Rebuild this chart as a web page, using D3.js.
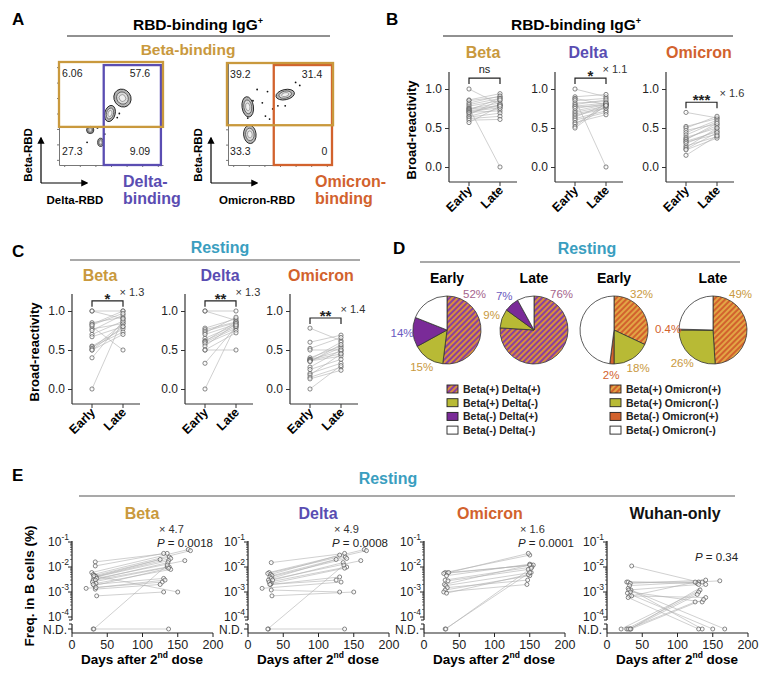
<!DOCTYPE html>
<html>
<head>
<meta charset="utf-8">
<script src="https://cdn.jsdelivr.net/npm/d3@7"></script>
<style>
body { margin: 0; background: #fff; }
svg text { font-family: "Liberation Sans", Arial, sans-serif; }
</style>
</head>
<body>
<script>
/* global d3 */

// ---------- data: panel A (flow plots, % of axis range)
const flowTicks = [5, 20, 35, 50, 65, 80, 95]
const flowLeftBlobs = [
  { x: 61, y: 65, rx: 8, ry: 9, rot: -35 },
  { x: 49, y: 50, rx: 5, ry: 8, rot: 15 },
  { x: 30, y: 34, rx: 3.5, ry: 3.5, rot: 0 },
  { x: 40, y: 22, rx: 2.8, ry: 4, rot: 0 }
]
const flowLeftDots = [[37, 36], [56, 46], [58, 50], [27, 22], [44, 30]]
const flowRightBlobs = [
  { x: 19, y: 57, rx: 5.5, ry: 10, rot: -8 },
  { x: 21, y: 30, rx: 6, ry: 9, rot: -5 },
  { x: 55, y: 69, rx: 9, ry: 5, rot: -12 }
]
const flowRightDots = [[28, 74], [38, 72], [33, 61], [36, 48], [43, 55], [48, 58], [69, 78], [65, 81], [40, 45], [19, 46], [24, 63], [55, 58]]
const flowLeftQuad = ['6.06', '57.6', '27.3', '9.09']
const flowRightQuad = ['39.2', '31.4', '33.3', '0']

// ---------- data: panel B (RBD-binding IgG+, broad-reactivity)
const bBetaEarly = [1.0, 0.86, 0.85, 0.82, 0.8, 0.78, 0.76, 0.75, 0.74, 0.73, 0.72, 0.71, 0.7, 0.69, 0.67, 0.65, 0.64, 0.62, 0.6, 0.57]
const bBetaLate = [0.8, 0.94, 0.9, 0.91, 0.88, 0.85, 0.0, 0.82, 0.79, 0.88, 0.78, 0.76, 0.72, 0.8, 0.86, 0.75, 0.69, 0.65, 0.61, 0.78]
const bDeltaEarly = [1.0, 0.9, 0.88, 0.87, 0.85, 0.82, 0.8, 0.78, 0.77, 0.75, 0.72, 0.7, 0.68, 0.66, 0.64, 0.62, 0.6, 0.57, 0.55, 0.52, 0.5]
const bDeltaLate = [0.9, 0.93, 0.8, 0.0, 0.88, 0.84, 0.86, 0.82, 0.79, 0.81, 0.8, 0.78, 0.76, 0.75, 0.8, 0.72, 0.7, 0.67, 0.78, 0.82, 0.79]
const bOmiEarly = [0.7, 0.52, 0.5, 0.47, 0.44, 0.41, 0.38, 0.36, 0.35, 0.33, 0.32, 0.3, 0.27, 0.25, 0.23, 0.22, 0.15]
const bOmiLate = [0.63, 0.62, 0.65, 0.55, 0.6, 0.58, 0.5, 0.53, 0.56, 0.45, 0.42, 0.47, 0.39, 0.5, 0.44, 0.37, 0.4]

// ---------- data: panel C (resting, broad-reactivity)
const cBetaEarly = [1.0, 1.0, 0.85, 0.83, 0.8, 0.77, 0.75, 0.7, 0.67, 0.55, 0.54, 0.52, 0.5, 0.5, 0.4, 0.0, 0.82]
const cBetaLate = [1.0, 0.9, 0.92, 1.0, 0.5, 0.84, 0.95, 0.87, 0.8, 0.77, 0.73, 0.84, 0.7, 0.8, 0.87, 0.9, 0.97]
const cDeltaEarly = [1.0, 1.0, 0.78, 0.76, 0.74, 0.72, 0.7, 0.65, 0.62, 0.61, 0.6, 0.58, 0.55, 0.5, 0.5, 0.33, 0.0]
const cDeltaLate = [1.0, 0.88, 0.9, 0.86, 0.85, 0.92, 0.83, 0.82, 0.8, 0.86, 0.78, 0.75, 0.84, 0.5, 0.72, 0.8, 0.82]
const cOmiEarly = [0.78, 0.6, 0.52, 0.5, 0.4, 0.38, 0.38, 0.37, 0.36, 0.36, 0.35, 0.28, 0.25, 0.2, 0.18, 0.15, 0.13, 0.0]
const cOmiLate = [0.62, 0.69, 0.66, 0.5, 0.55, 0.48, 0.6, 0.45, 0.53, 0.42, 0.57, 0.5, 0.38, 0.33, 0.45, 0.28, 0.24, 0.3]

// ---------- data: panel D (pie shares, %)
const pieDeltaCats = ['Beta(+) Delta(+)', 'Beta(+) Delta(-)', 'Beta(-) Delta(+)', 'Beta(-) Delta(-)']
const pieOmiCats = ['Beta(+) Omicron(+)', 'Beta(+) Omicron(-)', 'Beta(-) Omicron(+)', 'Beta(-) Omicron(-)']
const pieDeltaEarly = [52, 15, 14, 19]
const pieDeltaLate = [76, 9, 7, 8]
const pieOmiEarly = [32, 18, 2, 48]
const pieOmiLate = [49, 26, 0.4, 24.6]
const pieDeltaLabels = [['52%', '15%', '14%', ''], ['76%', '9%', '7%', '']]
const pieOmiLabels = [['32%', '18%', '2%', ''], ['49%', '26%', '0.4%', '']]

// ---------- data: panel E (frequency in B cells, %, null = N.D.)
const eBetaEarlyDay = [33, 33, 28, 30, 32, 33, 34, 31, 35, 30, 33, 29, 34, 32, 30, 20, 33, 34, 35, 31, 30, 31]
const eBetaEarlyVal = [0.016, 0.011, 0.006, 0.005, 0.0045, 0.004, 0.0042, 0.0038, 0.0035, 0.003, 0.003, 0.0025, 0.0022, 0.0018, 0.002, 0.0014, 0.0013, 0.0015, 0.0007, 0.0045, null, null]
const eBetaLateDay = [135, 130, 165, 168, 138, 140, 125, 137, 160, 136, 135, 138, 140, 137, 130, 128, 125, 132, 130, 150, 137, 135]
const eBetaLateVal = [0.035, 0.035, 0.05, 0.045, 0.025, 0.022, 0.02, 0.018, 0.018, 0.015, 0.01, 0.01, 0.008, 0.009, 0.0035, 0.0025, 0.002, 0.003, 0.001, 0.001, null, 0.012]

const eDeltaEarlyDay = [33, 30, 28, 32, 34, 31, 33, 29, 35, 30, 33, 32, 31, 20, 33, 34, 29, 28]
const eDeltaEarlyVal = [0.015, 0.006, 0.0055, 0.005, 0.0045, 0.004, 0.0035, 0.003, 0.003, 0.0025, 0.0022, 0.002, 0.002, 0.0014, 0.0012, 0.0007, null, null]
const eDeltaLateDay = [137, 165, 168, 130, 138, 140, 125, 160, 135, 140, 137, 130, 125, 132, 130, 150, 137, 136]
const eDeltaLateVal = [0.035, 0.05, 0.045, 0.03, 0.025, 0.022, 0.02, 0.018, 0.015, 0.01, 0.009, 0.004, 0.003, 0.0025, 0.001, 0.001, null, 0.012]

const eOmiEarlyDay = [30, 33, 28, 35, 32, 30, 34, 29, 31, 33, 30, 28, 32, 30, 31]
const eOmiEarlyVal = [0.006, 0.0058, 0.0055, 0.006, 0.0045, 0.003, 0.0028, 0.002, 0.0018, 0.0015, 0.0012, 0.001, 0.0009, null, null]
const eOmiLateDay = [150, 148, 152, 155, 150, 153, 148, 150, 152, 147, 150, 146, 148, 150, 152]
const eOmiLateVal = [0.03, 0.035, 0.012, 0.012, 0.013, 0.01, 0.008, 0.012, 0.006, 0.003, 0.0045, 0.002, 0.005, 0.006, 0.009]

const eWuhanEarlyDay = [35, 28, 30, 33, 32, 30, 34, 31, 33, 29, 32, 35, 30, 20, 28, 32, 34, 30, 33]
const eWuhanEarlyVal = [0.011, 0.0025, 0.0025, 0.0022, 0.0018, 0.0014, 0.0012, 0.0012, 0.001, 0.0009, 0.0007, 0.0007, 0.0006, null, null, null, null, null, null]
const eWuhanLateDay = [130, 128, 135, 140, 160, 135, 167, 130, 135, 150, 140, 125, 130, 132, 130, 128, 137, 125, 140]
const eWuhanLateVal = [0.0025, 0.0022, 0.0025, 0.003, 0.0028, null, null, 0.002, 0.0004, null, 0.0006, 0.0025, null, 0.0012, 0.001, 0.0008, 0.0005, 0.0004, 0.002]

const dayTicks = [0, 50, 100, 150, 200]
const decades = [-1, -2, -3, -4]

// ---------- colours
const GOLD = '#c9993d'
const PURPLE = '#5a4db2'
const ORANGE = '#d2622d'
const TEAL = '#3a9ec0'
const OLIVE = '#b8ba35'
const VIOLET = '#7a2b98'
const MAUVE = '#a5648c'

const width = 760
const height = 675

const svg = d3.select('body').append('svg')
  .attr('width', width)
  .attr('height', height)

const defs = svg.append('defs')

function hatch (id, c1, c2) {
  const p = defs.append('pattern')
    .attr('id', id)
    .attr('patternUnits', 'userSpaceOnUse')
    .attr('width', 4).attr('height', 4)
    .attr('patternTransform', 'rotate(45)')
  p.append('rect').attr('width', 4).attr('height', 4).attr('fill', c1)
  p.append('rect').attr('width', 2).attr('height', 4).attr('fill', c2)
}
hatch('hD', '#8a3fa0', '#d8903c')
hatch('hO', '#d2622d', '#e2a545')

defs.append('marker')
  .attr('id', 'arrow')
  .attr('viewBox', '0 0 10 10')
  .attr('refX', 8).attr('refY', 5)
  .attr('markerWidth', 6).attr('markerHeight', 6)
  .attr('orient', 'auto')
  .append('path').attr('d', 'M0,0L10,5L0,10z').attr('fill', '#000')

function text (x, y, str, o) {
  o = o || {}
  return svg.append('text')
    .attr('x', x).attr('y', y)
    .attr('text-anchor', o.anchor || 'middle')
    .attr('font-size', o.size || 12)
    .attr('font-weight', o.bold ? 'bold' : 'normal')
    .attr('fill', o.color || '#000')
    .text(str)
}

function header (x, y, title, color, x0, x1, uy) {
  const t = text(x, y, title, { size: 16, bold: true, color: color })
  svg.append('line').attr('x1', x0).attr('x2', x1).attr('y1', uy).attr('y2', uy)
    .attr('stroke', '#555').attr('stroke-width', 1.1)
  return t
}

function igTitle (x, y, x0, x1, uy) {
  const t = text(x, y, 'RBD-binding IgG', { size: 15.5, bold: true })
  t.append('tspan').attr('font-size', 9).attr('dy', -6).text('+')
  svg.append('line').attr('x1', x0).attr('x2', x1).attr('y1', uy).attr('y2', uy)
    .attr('stroke', '#222').attr('stroke-width', 1)
}

// panel letters
text(12, 25, 'A', { size: 17, bold: true, anchor: 'start' })
text(386, 25, 'B', { size: 17, bold: true, anchor: 'start' })
text(12, 257, 'C', { size: 17, bold: true, anchor: 'start' })
text(393, 254, 'D', { size: 17, bold: true, anchor: 'start' })
text(12, 481, 'E', { size: 17, bold: true, anchor: 'start' })

// ================= Panel A
igTitle(198, 30, 67, 330, 36)
text(188, 55, 'Beta-binding', { size: 15.5, bold: true, color: GOLD })

function flowPlot (o) {
  const fx = d3.scaleLinear().domain([0, 100]).range([o.x0, o.x1])
  const fy = d3.scaleLinear().domain([0, 100]).range([o.y1, o.y0])
  const g = svg.append('g')
  g.append('g').attr('transform', `translate(${o.x0},0)`)
    .call(d3.axisLeft(fy).tickValues(flowTicks).tickSize(2).tickFormat('').tickSizeOuter(0))
    .call(s => s.selectAll('line,path').attr('stroke', '#777'))
  g.append('g').attr('transform', `translate(0,${o.y1})`)
    .call(d3.axisBottom(fx).tickValues(flowTicks).tickSize(2).tickFormat('').tickSizeOuter(0))
    .call(s => s.selectAll('line,path').attr('stroke', '#777'))

  const ring = [[1, '#b5b5b5', '#222', 0.9], [0.68, '#dcdcdc', '#444', 0.7], [0.38, '#f0f0f0', '#777', 0.6]]
  o.blobs.forEach(b => {
    ring.forEach(r => {
      g.append('ellipse')
        .attr('transform', `translate(${fx(b.x)},${fy(b.y)}) rotate(${b.rot})`)
        .attr('rx', (fx(b.rx) - fx(0)) * r[0])
        .attr('ry', (fy(0) - fy(b.ry)) * r[0])
        .attr('fill', r[1]).attr('stroke', r[2]).attr('stroke-width', r[3])
    })
  })
  g.selectAll('circle.dot').data(o.dots).enter().append('circle')
    .attr('cx', d => fx(d[0])).attr('cy', d => fy(d[1])).attr('r', 0.9).attr('fill', '#111')

  // gates
  g.append('rect')
    .attr('x', fx(o.colGate[0])).attr('y', fy(o.colGate[3]))
    .attr('width', fx(o.colGate[1]) - fx(o.colGate[0]))
    .attr('height', fy(o.colGate[2]) - fy(o.colGate[3]))
    .attr('fill', 'none').attr('stroke', o.colColor).attr('stroke-width', 2.3)
  g.append('rect')
    .attr('x', fx(o.rowGate[0])).attr('y', fy(o.rowGate[3]))
    .attr('width', fx(o.rowGate[1]) - fx(o.rowGate[0]))
    .attr('height', fy(o.rowGate[2]) - fy(o.rowGate[3]))
    .attr('fill', 'none').attr('stroke', GOLD).attr('stroke-width', 2.3)

  const qx = [o.qx[0], o.qx[1], o.qx[0], o.qx[2]]
  const qy = [85, 85, 10, 10]
  o.quad.forEach((q, i) => {
    g.append('text').attr('x', fx(qx[i])).attr('y', fy(qy[i]))
      .attr('font-size', 10.5).attr('fill', '#222').text(q)
  })

  // axis arrows
  const ax = o.ax
  g.append('line').attr('x1', ax).attr('y1', o.y1 + 18).attr('x2', ax).attr('y2', o.y1 - 27)
    .attr('stroke', '#000').attr('stroke-width', 1.2).attr('marker-end', 'url(#arrow)')
  g.append('line').attr('x1', ax).attr('y1', o.y1 + 18).attr('x2', ax + o.arrowLen).attr('y2', o.y1 + 18)
    .attr('stroke', '#000').attr('stroke-width', 1.2).attr('marker-end', 'url(#arrow)')
  g.append('text').attr('transform', `translate(${ax - 9},${o.y1 - 10}) rotate(-90)`)
    .attr('text-anchor', 'middle').attr('font-size', 11.5).attr('font-weight', 'bold').text('Beta-RBD')
  g.append('text').attr('x', o.xlabX).attr('y', o.y1 + 39)
    .attr('text-anchor', 'middle').attr('font-size', 11.5).attr('font-weight', 'bold').text(o.xlab)
  g.append('text').attr('x', o.gateLabX).attr('y', o.y1 + 22)
    .attr('font-size', 16).attr('font-weight', 'bold').attr('fill', o.colColor).text(o.gateLab[0])
  g.append('text').attr('x', o.gateLabX).attr('y', o.y1 + 39)
    .attr('font-size', 16).attr('font-weight', 'bold').attr('fill', o.colColor).text(o.gateLab[1])
}

flowPlot({
  x0: 59, x1: 163, y0: 62, y1: 165,
  blobs: flowLeftBlobs, dots: flowLeftDots, quad: flowLeftQuad,
  qx: [3, 68, 68], colGate: [43, 98, 0, 97], rowGate: [0, 100, 37, 100], colColor: PURPLE,
  ax: 41, arrowLen: 46, xlab: 'Delta-RBD', xlabX: 75,
  gateLab: ['Delta-', 'binding'], gateLabX: 123
})
flowPlot({
  x0: 228, x1: 332, y0: 63, y1: 165,
  blobs: flowRightBlobs, dots: flowRightDots, quad: flowRightQuad,
  qx: [2, 71, 90], colGate: [44, 100, 0, 98], rowGate: [-1, 101, 39, 100], colColor: ORANGE,
  ax: 211, arrowLen: 46, xlab: 'Omicron-RBD', xlabX: 257,
  gateLab: ['Omicron-', 'binding'], gateLabX: 315
})

// ================= Panels B and C: paired early/late plots
function paired (o) {
  const g = svg.append('g')
  const x = d3.scalePoint().domain(['Early', 'Late']).range([o.x0 + 20, o.x0 + 51])
  const y = d3.scaleLinear().domain([0, 1]).range([o.yb - 15, o.yb - 93])

  g.append('g').attr('transform', `translate(${o.x0},0)`)
    .call(d3.axisLeft(y).tickValues([0, 0.5, 1]).tickFormat(d3.format('.1f')).tickSize(4))
    .call(s => s.select('.domain').remove())
    .call(s => s.selectAll('text').attr('font-size', 12).attr('fill', '#222').attr('font-family', '"Liberation Sans", Arial, sans-serif'))
    .call(s => s.selectAll('line').attr('stroke', '#333'))
  g.append('line').attr('x1', o.x0).attr('x2', o.x0).attr('y1', o.yb - 110).attr('y2', o.yb)
    .attr('stroke', '#333').attr('stroke-width', 1.2)
  g.append('line').attr('x1', o.x0).attr('x2', o.x0 + 68).attr('y1', o.yb).attr('y2', o.yb)
    .attr('stroke', '#333').attr('stroke-width', 1.2)
  g.selectAll('line.xt').data(x.domain()).enter().append('line')
    .attr('x1', d => x(d)).attr('x2', d => x(d)).attr('y1', o.yb).attr('y2', o.yb + 4)
    .attr('stroke', '#333')
  g.selectAll('text.xt').data(x.domain()).enter().append('text')
    .attr('transform', d => `translate(${x(d) + 4},${o.yb + 9}) rotate(-45)`)
    .attr('text-anchor', 'end').attr('font-size', 12.5).attr('font-weight', 'bold')
    .text(d => d)

  const pairs = o.early.map((e, i) => [e, o.late[i]])
  g.selectAll('line.pair').data(pairs).enter().append('line')
    .attr('x1', x('Early')).attr('x2', x('Late'))
    .attr('y1', d => y(d[0])).attr('y2', d => y(d[1]))
    .attr('stroke', '#b0b0b0').attr('stroke-width', 0.6)
  ;[['Early', o.early], ['Late', o.late]].forEach(s => {
    g.selectAll(null).data(s[1]).enter().append('circle')
      .attr('cx', x(s[0])).attr('cy', d => y(d)).attr('r', 2.1)
      .attr('fill', '#fff').attr('fill-opacity', 0.6)
      .attr('stroke', '#555').attr('stroke-width', 0.7)
  })

  // significance bracket
  const by = y(o.bracket)
  g.append('path')
    .attr('d', `M${x('Early')},${by + 6}V${by}H${x('Late')}V${by + 6}`)
    .attr('fill', 'none').attr('stroke', '#222').attr('stroke-width', 1.2)
  const mid = (x('Early') + x('Late')) / 2
  if (o.sig === 'ns') {
    g.append('text').attr('x', mid).attr('y', by - 5).attr('text-anchor', 'middle')
      .attr('font-size', 11).attr('fill', '#222').text('ns')
  } else {
    g.append('text').attr('x', mid).attr('y', by + 3).attr('text-anchor', 'middle')
      .attr('font-size', 15).attr('font-weight', 'bold').attr('fill', '#222').text(o.sig)
    g.append('text').attr('x', mid + 9 + o.sig.length * 3).attr('y', by - 5)
      .attr('font-size', 11).attr('fill', '#333').text('\u00d7 ' + o.ratio)
  }
  if (o.ylab) {
    g.append('text').attr('transform', `translate(${o.x0 - 33},${o.yb - 52}) rotate(-90)`)
      .attr('text-anchor', 'middle').attr('font-size', 13).attr('font-weight', 'bold')
      .text('Broad-reactivity')
  }
}

// Panel B
igTitle(576, 30, 443, 733, 36)
text(483, 58, 'Beta', { size: 16, bold: true, color: GOLD })
text(588, 58, 'Delta', { size: 16, bold: true, color: PURPLE })
text(699, 58, 'Omicron', { size: 16, bold: true, color: ORANGE })
paired({ x0: 449, yb: 182, early: bBetaEarly, late: bBetaLate, bracket: 1.14, sig: 'ns', ylab: true })
paired({ x0: 555, yb: 182, early: bDeltaEarly, late: bDeltaLate, bracket: 1.14, sig: '*', ratio: '1.1' })
paired({ x0: 666, yb: 182, early: bOmiEarly, late: bOmiLate, bracket: 0.83, sig: '***', ratio: '1.6' })

// Panel C
header(220, 253, 'Resting', TEAL, 70, 360, 260)
text(100, 281, 'Beta', { size: 16, bold: true, color: GOLD })
text(220, 281, 'Delta', { size: 16, bold: true, color: PURPLE })
text(321, 281, 'Omicron', { size: 16, bold: true, color: ORANGE })
paired({ x0: 72, yb: 404, early: cBetaEarly, late: cBetaLate, bracket: 1.13, sig: '*', ratio: '1.3', ylab: true })
paired({ x0: 185, yb: 404, early: cDeltaEarly, late: cDeltaLate, bracket: 1.13, sig: '**', ratio: '1.3' })
paired({ x0: 290, yb: 404, early: cOmiEarly, late: cOmiLate, bracket: 0.91, sig: '**', ratio: '1.4' })

// ================= Panel D: pies
header(587, 254, 'Resting', TEAL, 420, 740, 262)
const pie = d3.pie().sort(null).value(d => d)
const arc = d3.arc().innerRadius(0).outerRadius(34)
const deltaFills = ['url(#hD)', OLIVE, VIOLET, '#fff']
const omiFills = ['url(#hO)', OLIVE, ORANGE, '#fff']
const deltaLabCol = [MAUVE, GOLD, '#6a5ac0', '#000']
const omiLabCol = [GOLD, GOLD, ORANGE, '#000']

function drawPie (cx, values, fills, labels, labCol, title) {
  const g = svg.append('g').attr('transform', `translate(${cx},330)`)
  const arcs = pie(values)
  g.selectAll('path').data(arcs).enter().append('path')
    .attr('d', arc).attr('fill', (d, i) => fills[i])
    .attr('stroke', '#333').attr('stroke-width', 0.8)
  g.selectAll('text.lab').data(arcs).enter().append('text')
    .attr('transform', (d, i) => {
      let a = (d.startAngle + d.endAngle) / 2
      if (i === 0) a = Math.min(a, 0.66)
      return `translate(${Math.sin(a) * 45},${-Math.cos(a) * 45 + 4})`
    })
    .attr('text-anchor', 'middle').attr('font-size', 11.5)
    .attr('fill', (d, i) => labCol[i])
    .text((d, i) => labels[i])
  text(cx, 283, title, { size: 14, bold: true })
}
drawPie(447, pieDeltaEarly, deltaFills, pieDeltaLabels[0], deltaLabCol, 'Early')
drawPie(534, pieDeltaLate, deltaFills, pieDeltaLabels[1], deltaLabCol, 'Late')
drawPie(614, pieOmiEarly, omiFills, pieOmiLabels[0], omiLabCol, 'Early')
drawPie(713, pieOmiLate, omiFills, pieOmiLabels[1], omiLabCol, 'Late')

function legend (x, cats, fills) {
  const rows = svg.append('g').selectAll('g').data(cats).enter().append('g')
    .attr('transform', (d, i) => `translate(${x},${389 + i * 13.7})`)
  rows.append('rect').attr('x', 0).attr('y', -4).attr('width', 11).attr('height', 8)
    .attr('fill', (d, i) => fills[i]).attr('stroke', '#222').attr('stroke-width', 0.9)
  rows.append('text').attr('x', 16).attr('y', 4)
    .attr('font-size', 10.5).attr('font-weight', 'bold').attr('fill', '#222')
    .text(d => d)
}
legend(447, pieDeltaCats, deltaFills)
legend(610, pieOmiCats, omiFills)

// ================= Panel E: time course
header(388, 484, 'Resting', TEAL, 79, 735, 496)
const ND = 629

function timecourse (o) {
  const g = svg.append('g')
  const x = d3.scaleLinear().domain([0, 200]).range([o.x0, o.x0 + 141])
  const y = d3.scaleLog().domain([1e-4, 1e-1]).range([617, 542])
  const yv = v => (v === null ? ND : y(v))

  text(o.x0 + o.titleDx, 519, o.title, { size: 16, bold: true, color: o.color })

  // y axis
  g.append('line').attr('x1', o.x0).attr('x2', o.x0).attr('y1', 541).attr('y2', 620)
    .attr('stroke', '#222').attr('stroke-width', 1.2)
  g.append('line').attr('x1', o.x0 - 3).attr('x2', o.x0).attr('y1', 620).attr('y2', 620).attr('stroke', '#222')
  g.append('line').attr('x1', o.x0).attr('x2', o.x0).attr('y1', 624).attr('y2', 633)
    .attr('stroke', '#222').attr('stroke-width', 1.2)
  g.append('line').attr('x1', o.x0 - 3).attr('x2', o.x0).attr('y1', 624).attr('y2', 624).attr('stroke', '#222')
  g.append('line').attr('x1', o.x0 - 4).attr('x2', o.x0).attr('y1', ND).attr('y2', ND).attr('stroke', '#222')
  decades.forEach(d => {
    g.append('line').attr('x1', o.x0 - 4).attr('x2', o.x0).attr('y1', y(Math.pow(10, d))).attr('y2', y(Math.pow(10, d)))
      .attr('stroke', '#222')
    const t = g.append('text').attr('x', o.x0 - 3).attr('y', y(Math.pow(10, d)) + 3.5)
      .attr('text-anchor', 'end').attr('font-size', 12).attr('fill', '#222')
    t.append('tspan').text('10')
    t.append('tspan').attr('font-size', 8.5).attr('dy', -6).text(String(d))
    if (d > -4) {
      d3.range(2, 10).forEach(k => {
        const yy = y(k * Math.pow(10, d - 1))
        g.append('line').attr('x1', o.x0 - 2).attr('x2', o.x0).attr('y1', yy).attr('y2', yy)
          .attr('stroke', '#222').attr('stroke-width', 0.6)
      })
    }
  })
  g.append('text').attr('x', o.x0 - 5).attr('y', ND + 5).attr('text-anchor', 'end')
    .attr('font-size', 12).attr('fill', '#222').text('N.D.')

  // x axis
  g.append('line').attr('x1', o.x0).attr('x2', o.x0 + 141).attr('y1', 633).attr('y2', 633)
    .attr('stroke', '#222').attr('stroke-width', 1.2)
  g.selectAll('line.xt').data(dayTicks).enter().append('line')
    .attr('x1', d => x(d)).attr('x2', d => x(d)).attr('y1', 633).attr('y2', 637).attr('stroke', '#222')
  g.selectAll('text.xt').data(dayTicks).enter().append('text')
    .attr('x', d => x(d)).attr('y', 649).attr('text-anchor', 'middle')
    .attr('font-size', 12.5).attr('fill', '#222').text(d => d)
  const xl = g.append('text').attr('x', o.x0 + 70).attr('y', 664).attr('text-anchor', 'middle')
    .attr('font-size', 13.5).attr('font-weight', 'bold')
  xl.append('tspan').text('Days after 2')
  xl.append('tspan').attr('font-size', 8.5).attr('dy', -6).text('nd')
  xl.append('tspan').attr('dy', 6).text(' dose')

  // paired lines and points
  const idx = d3.range(o.eDay.length)
  g.selectAll('line.pair').data(idx).enter().append('line')
    .attr('x1', i => x(o.eDay[i])).attr('y1', i => yv(o.eVal[i]))
    .attr('x2', i => x(o.lDay[i])).attr('y2', i => yv(o.lVal[i]))
    .attr('stroke', '#b0b0b0').attr('stroke-width', 0.6)
  g.selectAll('circle.e').data(idx).enter().append('circle')
    .attr('cx', i => x(o.eDay[i])).attr('cy', i => yv(o.eVal[i])).attr('r', 2)
    .attr('fill', '#fff').attr('fill-opacity', 0.6).attr('stroke', '#555').attr('stroke-width', 0.7)
  g.selectAll('circle.l').data(idx).enter().append('circle')
    .attr('cx', i => x(o.lDay[i])).attr('cy', i => yv(o.lVal[i])).attr('r', 2)
    .attr('fill', '#fff').attr('fill-opacity', 0.6).attr('stroke', '#555').attr('stroke-width', 0.7)

  // stats
  if (o.ratio) {
    g.append('text').attr('x', o.x0 + o.statDx + 2).attr('y', 533)
      .attr('font-size', 11).attr('fill', '#333').text('\u00d7 ' + o.ratio)
  }
  const p = g.append('text').attr('x', o.x0 + o.statDx).attr('y', o.ratio ? 547 : 561)
    .attr('font-size', 11.5).attr('fill', '#222')
  p.append('tspan').attr('font-style', 'italic').text('P')
  p.append('tspan').text(' = ' + o.p)

  if (o.ylab) {
    g.append('text').attr('transform', `translate(${o.x0 - 38},586) rotate(-90)`)
      .attr('text-anchor', 'middle').attr('font-size', 13.5).attr('font-weight', 'bold')
      .text('Freq. in B cells (%)')
  }
}

timecourse({ x0: 72, title: 'Beta', titleDx: 70, color: GOLD, eDay: eBetaEarlyDay, eVal: eBetaEarlyVal, lDay: eBetaLateDay, lVal: eBetaLateVal, ratio: '4.7', p: '0.0018', statDx: 85, ylab: true })
timecourse({ x0: 248, title: 'Delta', titleDx: 70, color: PURPLE, eDay: eDeltaEarlyDay, eVal: eDeltaEarlyVal, lDay: eDeltaLateDay, lVal: eDeltaLateVal, ratio: '4.9', p: '0.0008', statDx: 84 })
timecourse({ x0: 424, title: 'Omicron', titleDx: 66, color: ORANGE, eDay: eOmiEarlyDay, eVal: eOmiEarlyVal, lDay: eOmiLateDay, lVal: eOmiLateVal, ratio: '1.6', p: '0.0001', statDx: 94 })
timecourse({ x0: 607, title: 'Wuhan-only', titleDx: 68, color: '#111', eDay: eWuhanEarlyDay, eVal: eWuhanEarlyVal, lDay: eWuhanLateDay, lVal: eWuhanLateVal, p: '0.34', statDx: 88 })
</script>
</body>
</html>
